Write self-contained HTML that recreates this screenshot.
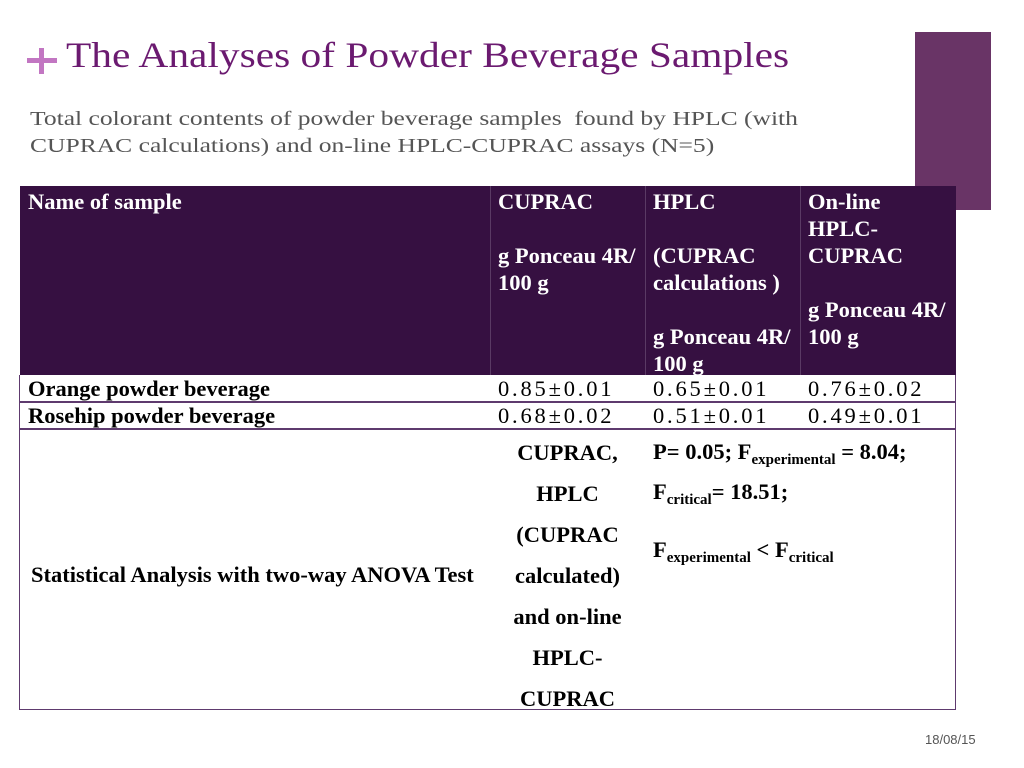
<!DOCTYPE html>
<html><head><meta charset="utf-8"><style>
body{margin:0;width:1024px;height:768px;background:#fff;position:relative;overflow:hidden;font-family:"Liberation Serif",serif}
.a{position:absolute;white-space:nowrap}
.h{color:#fff;font-weight:bold;font-size:22.5px;line-height:27px}
.c{font-size:22.5px;line-height:27px;color:#000}
.v{letter-spacing:2.8px}
.b{font-weight:bold}
.s{font-weight:bold;font-size:22.5px;color:#000}
sub{font-size:15px;vertical-align:-5px;line-height:0}
</style></head><body>
<div class="a" style="left:915px;top:32px;width:76px;height:178px;background:#693466"></div>
<div class="a" style="left:27px;top:48px;width:30px;height:26px">
<div class="a" style="left:0;top:10px;width:30px;height:5px;background:#c276c2"></div>
<div class="a" style="left:12px;top:0;width:5px;height:26px;background:#c276c2"></div></div>
<div class="a" style="left:66px;top:34px;font-size:36px;color:#6b1a70;transform:scaleX(1.15);transform-origin:0 0">The Analyses of Powder Beverage Samples</div>
<div class="a" style="left:30px;top:106px;font-size:19.5px;line-height:27px;color:#555;transform:scaleX(1.31);transform-origin:0 0">Total colorant contents of powder beverage samples &nbsp;found by HPLC (with<br>CUPRAC calculations) and on-line HPLC-CUPRAC assays (N=5)</div>

<div>
<div class="a" style="left:20px;top:186px;width:936px;height:189px;background:#361041"></div>
<div class="a" style="left:490px;top:186px;width:1px;height:189px;background:#5a3a64"></div>
<div class="a" style="left:645px;top:186px;width:1px;height:189px;background:#5a3a64"></div>
<div class="a" style="left:800px;top:186px;width:1px;height:189px;background:#5a3a64"></div>
<div class="a" style="left:19px;top:375px;width:935px;height:334px;border:1.5px solid #5e3a6e;border-top:none"></div>
<div class="a" style="left:20px;top:401px;width:936px;height:1.5px;background:#5e3a6e"></div>
<div class="a" style="left:20px;top:428px;width:936px;height:1.5px;background:#5e3a6e"></div>

<div class="a h" style="left:28px;top:188px">Name of sample</div>
<div class="a h" style="left:498px;top:188px">CUPRAC<br><br>g Ponceau 4R/<br>100 g</div>
<div class="a h" style="left:653px;top:188px">HPLC<br><br>(CUPRAC<br>calculations )<br><br>g Ponceau 4R/<br>100 g</div>
<div class="a h" style="left:808px;top:188px">On-line<br>HPLC-<br>CUPRAC<br><br>g Ponceau 4R/<br>100 g</div>

<div class="a c b" style="left:28px;top:375px">Orange powder beverage</div>
<div class="a c v" style="left:498px;top:375px">0.85±0.01</div>
<div class="a c v" style="left:653px;top:375px">0.65±0.01</div>
<div class="a c v" style="left:808px;top:375px">0.76±0.02</div>
<div class="a c b" style="left:28px;top:402px">Rosehip powder beverage</div>
<div class="a c v" style="left:498px;top:402px">0.68±0.02</div>
<div class="a c v" style="left:653px;top:402px">0.51±0.01</div>
<div class="a c v" style="left:808px;top:402px">0.49±0.01</div>

<div class="a s" style="left:31px;top:562px">Statistical Analysis with two-way ANOVA Test</div>
<div class="a s" style="left:490px;top:432px;width:155px;text-align:center;line-height:41px">CUPRAC,<br>HPLC<br>(CUPRAC<br>calculated)<br>and on-line<br>HPLC-<br>CUPRAC</div>
<div class="a s" style="left:653px;top:439px">P= 0.05; F<sub>experimental</sub> = 8.04;</div>
<div class="a s" style="left:653px;top:479px">F<sub>critical</sub>= 18.51;</div>
<div class="a s" style="left:653px;top:537px">F<sub>experimental</sub> &lt; F<sub>critical</sub></div>
</div>

<div class="a" style="left:925px;top:732px;font-family:'Liberation Sans',sans-serif;font-size:13px;color:#555">18/08/15</div>
</body></html>
